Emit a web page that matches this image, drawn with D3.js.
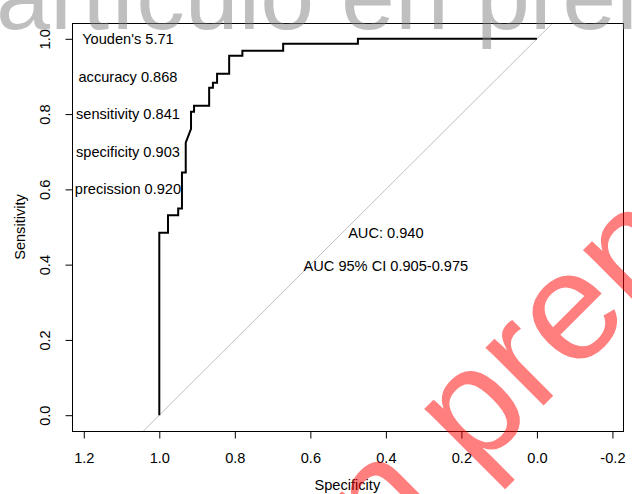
<!DOCTYPE html>
<html>
<head>
<meta charset="utf-8">
<script src="https://cdn.jsdelivr.net/npm/d3@7"></script>
<style>
  html, body { margin: 0; padding: 0; background: #fff; }
  svg { display: block; font-family: "Liberation Sans", Arial, Helvetica, sans-serif; }
</style>
</head>
<body>
<svg id="chart" width="632" height="494"></svg>
<script>
// ---- data ----
const specificity = [1.000, 1.000, 0.977, 0.977, 0.950, 0.950, 0.940, 0.940, 0.930, 0.930, 0.916, 0.916, 0.908, 0.908,
                     0.868, 0.868, 0.858, 0.858, 0.847, 0.847, 0.815, 0.815, 0.780, 0.780, 0.672, 0.672, 0.474, 0.474, 0.000];
const sensitivity = [0.000, 0.485, 0.485, 0.531, 0.531, 0.549, 0.549, 0.645, 0.645, 0.724, 0.761, 0.806, 0.806, 0.822,
                     0.822, 0.870, 0.870, 0.883, 0.883, 0.907, 0.907, 0.955, 0.955, 0.968, 0.968, 0.987, 0.987, 1.000, 1.000];
const xTickValues = [1.2, 1.0, 0.8, 0.6, 0.4, 0.2, 0.0, -0.2];
const xTickLabels = ["1.2", "1.0", "0.8", "0.6", "0.4", "0.2", "0.0", "-0.2"];
const yTickValues = [0.0, 0.2, 0.4, 0.6, 0.8, 1.0];
const yTickLabels = ["0.0", "0.2", "0.4", "0.6", "0.8", "1.0"];
const statLabels = ["Youden's 5.71", "accuracy 0.868", "sensitivity 0.841", "specificity 0.903", "precission 0.920"];
const statLabelSens = [1.0, 0.9, 0.8, 0.7, 0.6];
const aucLabels = ["AUC: 0.940", "AUC 95% CI 0.905-0.975"];
const aucLabelSens = [0.485, 0.398];
const xTitle = "Specificity";
const yTitle = "Sensitivity";
const watermarkWords = ["artículo", "en", "prensa"];

// ---- layout ----
const svg = d3.select("#chart");
const FS = 14.6;
const x = d3.scaleLinear().domain([1.232, -0.228]).range([71.7, 623]);
const y = d3.scaleLinear().domain([-0.042, 1.042]).range([431, 23]);
const px = v => Math.round(v) + 0.5;

// diagonal reference line, clipped to plot region
svg.append("defs").append("clipPath").attr("id", "plotclip")
  .append("rect").attr("x", x.range()[0]).attr("y", y.range()[1])
  .attr("width", x.range()[1] - x.range()[0]).attr("height", y.range()[0] - y.range()[1]);

svg.append("line")
  .attr("clip-path", "url(#plotclip)")
  .attr("x1", x(1.05)).attr("y1", y(-0.05))
  .attr("x2", x(-0.05)).attr("y2", y(1.05))
  .attr("stroke", "#bebebe").attr("stroke-width", 1);

// ROC curve
const pts = specificity.map((s, i) => [s, sensitivity[i]]);
svg.append("path")
  .datum(pts)
  .attr("fill", "none")
  .attr("stroke", "#000")
  .attr("stroke-width", 2)
  .attr("stroke-linejoin", "miter")
  .attr("d", d3.line().x(d => x(d[0])).y(d => y(d[1])));

// axes
const xAxis = svg.append("g")
  .attr("transform", `translate(0,${px(y.range()[0])})`)
  .call(d3.axisBottom(x).tickValues(xTickValues)
        .tickFormat((d, i) => xTickLabels[i]).tickSize(7).tickSizeOuter(0));
xAxis.select(".domain").remove();
xAxis.selectAll(".tick line").attr("stroke", "#000");
xAxis.selectAll(".tick text")
  .attr("y", 26.5).attr("dy", "0.35em")
  .attr("font-size", FS).attr("fill", "#000")
  .attr("font-family", "Liberation Sans, Arial, sans-serif");

const yAxis = svg.append("g")
  .attr("transform", `translate(${px(x.range()[0])},0)`)
  .call(d3.axisLeft(y).tickValues(yTickValues)
        .tickFormat((d, i) => yTickLabels[i]).tickSize(7).tickSizeOuter(0));
yAxis.select(".domain").remove();
yAxis.selectAll(".tick line").attr("stroke", "#000");
yAxis.selectAll(".tick text")
  .attr("x", null).attr("dy", null)
  .attr("transform", `translate(${44.5 - px(x.range()[0])},0) rotate(-90)`)
  .attr("text-anchor", "middle").attr("dy", "0.35em")
  .attr("font-size", FS).attr("fill", "#000")
  .attr("font-family", "Liberation Sans, Arial, sans-serif");

// box
svg.append("rect")
  .attr("x", px(x.range()[0])).attr("y", px(y.range()[1]))
  .attr("width", Math.round(x.range()[1]) - Math.round(x.range()[0]))
  .attr("height", Math.round(y.range()[0]) - Math.round(y.range()[1]))
  .attr("fill", "none").attr("stroke", "#000").attr("stroke-width", 1);

// axis titles
svg.append("text").text(xTitle)
  .attr("x", (x.range()[0] + x.range()[1]) / 2).attr("y", 485).attr("dy", "0.35em")
  .attr("text-anchor", "middle").attr("font-size", FS).attr("fill", "#000");
svg.append("text").text(yTitle)
  .attr("transform", `translate(20,${(y.range()[0] + y.range()[1]) / 2}) rotate(-90)`)
  .attr("dy", "0.35em")
  .attr("text-anchor", "middle").attr("font-size", FS).attr("fill", "#000");

// annotations
svg.append("g").selectAll("text").data(statLabels).join("text")
  .text(d => d)
  .attr("x", x(1.083)).attr("y", (d, i) => y(statLabelSens[i])).attr("dy", "0.35em")
  .attr("text-anchor", "middle").attr("font-size", FS).attr("fill", "#000");
svg.append("g").selectAll("text").data(aucLabels).join("text")
  .text(d => d)
  .attr("x", x(0.4)).attr("y", (d, i) => y(aucLabelSens[i])).attr("dy", "0.35em")
  .attr("text-anchor", "middle").attr("font-size", FS).attr("fill", "#000");

// watermarks
svg.append("text").text(watermarkWords.join(" "))
  .attr("x", -4).attr("y", 29).attr("font-size", 97).attr("fill", "rgba(128,128,128,0.5)");

const RS = 155;
const wm = svg.append("g").attr("transform", "translate(475,474) rotate(-45)");
wm.append("text").text("A" + watermarkWords[0].slice(1) + " " + watermarkWords[1])
  .attr("x", -0.278 * RS).attr("text-anchor", "end")
  .attr("font-size", RS).attr("fill", "rgba(255,0,0,0.5)");
wm.append("text").text(watermarkWords[2])
  .attr("x", 0).attr("font-size", RS).attr("fill", "rgba(255,0,0,0.5)");
</script>
</body>
</html>
